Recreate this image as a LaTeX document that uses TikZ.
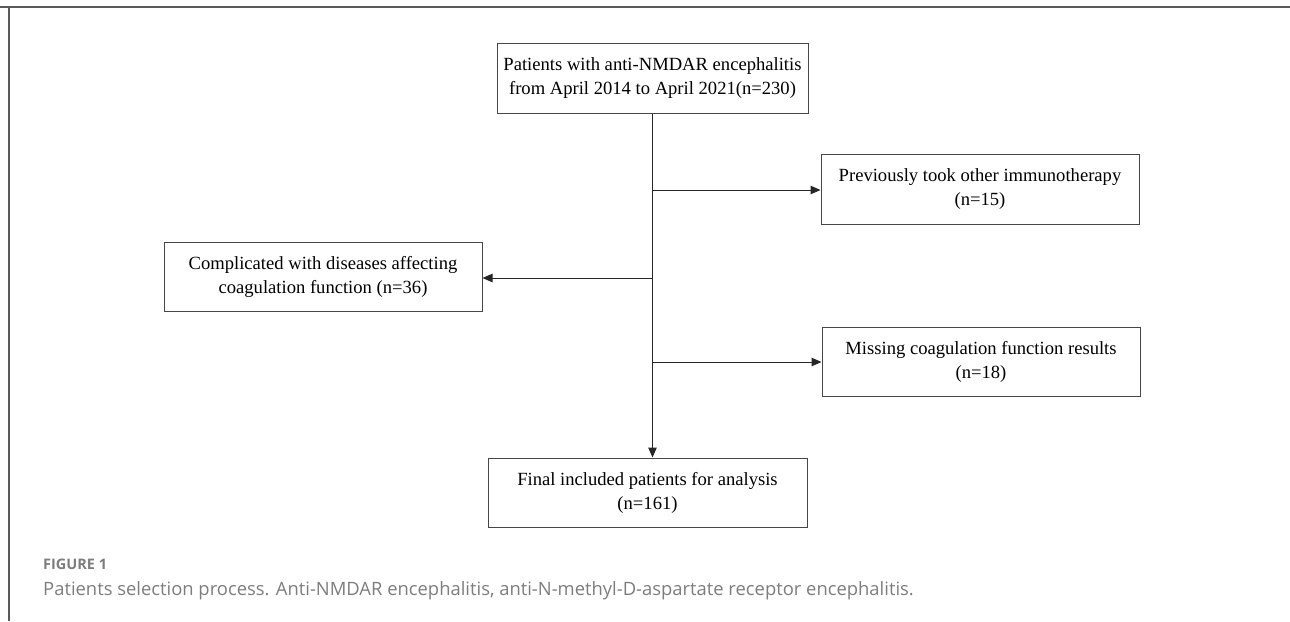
\documentclass[tikz,border=0pt]{standalone}
\usepackage{fontspec}
\setmainfont{Liberation Serif}
\newfontfamily\capfont{Open Sans}
\usetikzlibrary{arrows.meta}
\definecolor{boxline}{RGB}{70,70,70}
\definecolor{capgray}{RGB}{125,125,125}
\definecolor{framegray}{RGB}{90,90,90}
\begin{document}
\begin{tikzpicture}[x=1pt,y=-1pt,
  flowbox/.style={draw=boxline, line width=1pt, align=center, inner sep=0pt,
    font=\fontsize{18.6}{24}\selectfont, text=black},
  flowarrow/.style={draw=black!85, line width=1pt, -{Triangle[length=10pt,width=8.5pt]}},
  flowline/.style={draw=black!85, line width=1pt}]
\useasboundingbox (0,0) rectangle (1290,621);
\draw[framegray, line width=1.2pt] (0,7) -- (1290,7);
\draw[framegray, line width=1.2pt] (9,7) -- (9,621);

\node[flowbox, minimum width=311pt, minimum height=70pt] (top) at (652.5,78)
  {Patients with anti-NMDAR encephalitis\\from April 2014 to April 2021(n=230)};
\node[flowbox, minimum width=318pt, minimum height=70pt] (r1) at (980,189)
  {Previously took other immunotherapy\\(n=15)};
\node[flowbox, minimum width=318pt, minimum height=69pt] (left) at (323,276.5)
  {Complicated with diseases affecting\\coagulation function (n=36)};
\node[flowbox, minimum width=318pt, minimum height=69pt] (r2) at (981,361.5)
  {Missing coagulation function results\\(n=18)};
\node[flowbox, minimum width=319pt, minimum height=69pt] (final) at (647.5,492.5)
  {Final included patients for analysis\\(n=161)};

\coordinate (b1) at (652.5,190);
\coordinate (b2) at (652.5,278);
\coordinate (b3) at (652.5,362);
\coordinate (bend) at (652.5,458);

\draw[flowarrow] (top.south) -- (bend |- final.north);
\draw[flowarrow] (b1) -- (b1 -| r1.west);
\draw[flowarrow] (b2) -- (b2 -| left.east);
\draw[flowarrow] (b3) -- (b3 -| r2.west);

\node[anchor=base west, inner sep=0pt, text=capgray, font=\capfont\bfseries\fontsize{14.5}{17}\selectfont] (figlabel) at (43,569) {FIGURE 1};
\node[anchor=base west, inner sep=0pt, text=capgray, font=\capfont\fontsize{18.4}{22}\selectfont] (caption) at (43,595)
  {Patients selection process. Anti-NMDAR encephalitis, anti-N-methyl-D-aspartate receptor encephalitis.};
\end{tikzpicture}
\end{document}
